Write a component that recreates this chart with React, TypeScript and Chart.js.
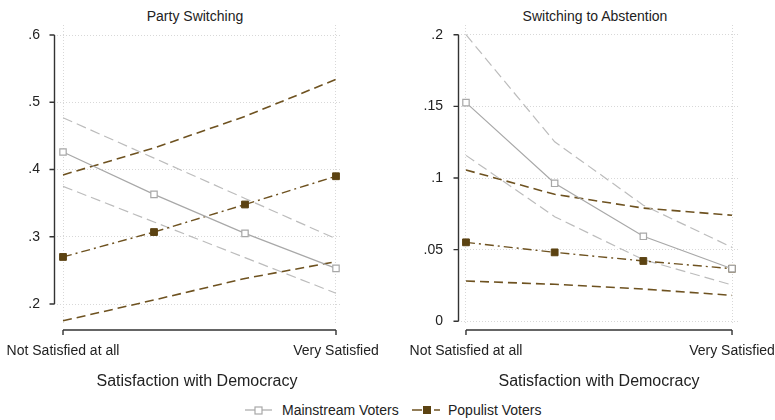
import React, { useEffect, useRef } from "react";
import { Chart, registerables } from "chart.js";

Chart.register(...registerables);

// ---- Data ----
const satisfactionLevels = [1, 2, 3, 4];
const xTickValues = [1, 4];
const xTickLabels = ["Not Satisfied at all", "Very Satisfied"];
const xAxisTitle = "Satisfaction with Democracy";

const panelTitles = ["Party Switching", "Switching to Abstention"];
const seriesNames = ["Mainstream Voters", "Populist Voters"];

// Party switching
const partyMainstream = [0.426, 0.363, 0.305, 0.253];
const partyMainstreamUpper = [0.477, 0.417, 0.357, 0.297];
const partyMainstreamLower = [0.375, 0.322, 0.269, 0.216];
const partyPopulist = [0.27, 0.307, 0.348, 0.39];
const partyPopulistUpper = [0.392, 0.432, 0.479, 0.534];
const partyPopulistLower = [0.175, 0.206, 0.238, 0.263];
const partyYTicks = [0.2, 0.3, 0.4, 0.5, 0.6];
const partyYTickLabels = [".2", ".3", ".4", ".5", ".6"];

// Switching to abstention
const abstMainstream = [0.1526, 0.0963, 0.0593, 0.0367];
const abstMainstreamUpper = [0.2, 0.1253, 0.081, 0.0516];
const abstMainstreamLower = [0.1158, 0.073, 0.043, 0.0253];
const abstPopulist = [0.0551, 0.0481, 0.0421, 0.0367];
const abstPopulistUpper = [0.1056, 0.0886, 0.079, 0.074];
const abstPopulistLower = [0.0281, 0.0258, 0.0225, 0.0181];
const abstYTicks = [0, 0.05, 0.1, 0.15, 0.2];
const abstYTickLabels = ["0", ".05", ".1", ".15", ".2"];

// ---- Styles ----
const FONT = "'Liberation Sans', Arial, sans-serif";
const TEXT = "#222";
const AXIS = "#333";
const GREY_MAIN = "#a8a8a8";
const GREY_CI = "#bcbcbc";
const BROWN = "#6e5220";
const BROWN_MARK = "#5c4312";

const axesPlugin = {
  id: "stataAxes",
  afterDraw(chart: any) {
    const { ctx, chartArea } = chart;
    const xs = chart.scales.x;
    const ys = chart.scales.y;
    const yTicks: number[] = chart.options.plugins.stataAxes.yTicks;
    ctx.save();
    ctx.strokeStyle = AXIS;
    ctx.lineWidth = 1.4;
    const ax = Math.round(chartArea.left) + 0.5;
    const yTop = ys.getPixelForValue(yTicks[yTicks.length - 1]);
    const yBot = ys.getPixelForValue(yTicks[0]);
    ctx.beginPath();
    ctx.moveTo(ax, yTop);
    ctx.lineTo(ax, yBot);
    yTicks.forEach((v) => {
      const py = ys.getPixelForValue(v);
      ctx.moveTo(ax - 5, py);
      ctx.lineTo(ax, py);
    });
    const xl = xs.getPixelForValue(xTickValues[0]);
    const xr = xs.getPixelForValue(xTickValues[xTickValues.length - 1]);
    const ay = chartArea.bottom + 5;
    ctx.moveTo(xl, ay);
    ctx.lineTo(xr, ay);
    ctx.moveTo(xl, ay);
    ctx.lineTo(xl, ay + 5);
    ctx.moveTo(xr, ay);
    ctx.lineTo(xr, ay + 5);
    ctx.stroke();
    ctx.restore();
  },
};

type PanelProps = {
  left: number;
  width: number;
  yAxisWidth: number;
  padRight: number;
  xMin: number;
  xMax: number;
  yMin: number;
  yMax: number;
  yTicks: number[];
  yTickLabels: string[];
  yLabelPad: number;
  mainstream: number[];
  mainstreamUpper: number[];
  mainstreamLower: number[];
  populist: number[];
  populistUpper: number[];
  populistLower: number[];
};

const toPoints = (arr: number[]) =>
  satisfactionLevels.map((x, i) => ({ x, y: arr[i] }));

function Panel(p: PanelProps) {
  const ref = useRef<HTMLCanvasElement>(null);
  useEffect(() => {
    const ciBase = { pointRadius: 0, pointHoverRadius: 0, fill: false, tension: 0 };
    const chart = new Chart(ref.current as HTMLCanvasElement, {
      type: "line",
      data: {
        datasets: [
          {
            label: seriesNames[0],
            data: toPoints(p.mainstream),
            borderColor: GREY_MAIN,
            borderWidth: 1.2,
            pointStyle: "rect",
            pointRadius: 4.5,
            pointBackgroundColor: "#ffffff",
            pointBorderColor: GREY_MAIN,
            pointBorderWidth: 1.2,
            fill: false,
            tension: 0,
          },
          {
            label: seriesNames[1],
            data: toPoints(p.populist),
            borderColor: BROWN,
            borderWidth: 1.4,
            borderDash: [9, 4, 2, 4],
            pointStyle: "rect",
            pointRadius: 4.8,
            pointBackgroundColor: BROWN_MARK,
            pointBorderColor: BROWN_MARK,
            pointBorderWidth: 1,
            fill: false,
            tension: 0,
          },
          {
            label: "Mainstream upper",
            data: toPoints(p.mainstreamUpper),
            borderColor: GREY_CI,
            borderWidth: 1.2,
            borderDash: [10, 5],
            ...ciBase,
          },
          {
            label: "Mainstream lower",
            data: toPoints(p.mainstreamLower),
            borderColor: GREY_CI,
            borderWidth: 1.2,
            borderDash: [10, 5],
            ...ciBase,
          },
          {
            label: "Populist upper",
            data: toPoints(p.populistUpper),
            borderColor: BROWN,
            borderWidth: 1.6,
            borderDash: [9, 5],
            ...ciBase,
          },
          {
            label: "Populist lower",
            data: toPoints(p.populistLower),
            borderColor: BROWN,
            borderWidth: 1.6,
            borderDash: [9, 5],
            ...ciBase,
          },
        ],
      } as any,
      options: {
        animation: false,
        responsive: true,
        maintainAspectRatio: false,
        layout: { padding: { top: 25, right: p.padRight, left: 0, bottom: 0 } },
        plugins: {
          legend: { display: false },
          tooltip: { enabled: false },
          title: { display: false },
          stataAxes: { yTicks: p.yTicks },
        } as any,
        scales: {
          x: {
            type: "linear",
            min: p.xMin,
            max: p.xMax,
            afterBuildTicks: (s: any) => {
              s.ticks = xTickValues.map((v) => ({ value: v }));
            },
            afterFit: (s: any) => {
              s.height = 70;
              s.paddingLeft = 0;
              s.paddingRight = 0;
            },
            ticks: {
              autoSkip: false,
              maxRotation: 0,
              padding: 18,
              color: TEXT,
              font: { family: FONT, size: 14 },
              callback: (_v: any, i: number) => xTickLabels[i],
            },
            grid: {
              color: "#d8d8d8",
              lineWidth: 1,
              drawTicks: false,
            },
            border: { display: false, dash: [1, 2] },
            title: {
              display: true,
              text: xAxisTitle,
              color: TEXT,
              font: { family: FONT, size: 16 },
              padding: { top: 0, bottom: 4 },
            },
          },
          y: {
            type: "linear",
            min: p.yMin,
            max: p.yMax,
            afterBuildTicks: (s: any) => {
              s.ticks = p.yTicks.map((v) => ({ value: v }));
            },
            afterFit: (s: any) => {
              s.width = p.yAxisWidth;
              s.paddingTop = 0;
              s.paddingBottom = 0;
            },
            ticks: {
              autoSkip: false,
              padding: p.yLabelPad,
              color: TEXT,
              font: { family: FONT, size: 14 },
              callback: (_v: any, i: number) => p.yTickLabels[i],
            },
            grid: {
              color: "#d8d8d8",
              lineWidth: 1,
              drawTicks: false,
            },
            border: { display: false, dash: [1, 2] },
          },
        } as any,
      },
      plugins: [axesPlugin],
    });
    return () => chart.destroy();
  }, []);
  return (
    <div
      style={{
        position: "absolute",
        left: p.left,
        top: 0,
        width: p.width,
        height: 395,
      }}
    >
      <canvas ref={ref} />
    </div>
  );
}

function LegendSymbol({ populist }: { populist: boolean }) {
  const c = populist ? BROWN : GREY_MAIN;
  return (
    <svg width={32} height={12} style={{ display: "block" }}>
      {populist ? (
        <>
          <line x1={0} y1={6} x2={10} y2={6} stroke={c} strokeWidth={1.5} />
          <rect x={11} y={2} width={8} height={8} fill={BROWN_MARK} />
          <line x1={22} y1={6} x2={28} y2={6} stroke={c} strokeWidth={1.5} />
        </>
      ) : (
        <>
          <line x1={0} y1={6} x2={27} y2={6} stroke={c} strokeWidth={1.2} />
          <rect x={10} y={3} width={7} height={7} fill="#fff" stroke={c} strokeWidth={1.2} />
        </>
      )}
    </svg>
  );
}

export default function App() {
  const titleStyle: React.CSSProperties = {
    position: "absolute",
    top: 8,
    width: 390,
    textAlign: "center",
    fontFamily: FONT,
    fontSize: 14,
    lineHeight: "16px",
    color: TEXT,
  };
  const legendText: React.CSSProperties = {
    position: "absolute",
    top: 402,
    fontFamily: FONT,
    fontSize: 14,
    lineHeight: "17px",
    color: TEXT,
    whiteSpace: "nowrap",
  };
  return (
    <div
      style={{
        position: "absolute",
        left: 0,
        top: 0,
        width: 775,
        height: 420,
        overflow: "hidden",
        background: "#fff",
      }}
    >
      <div style={{ ...titleStyle, left: 0 }}>{panelTitles[0]}</div>
      <div style={{ ...titleStyle, left: 400 }}>{panelTitles[1]}</div>
      <Panel
        left={0}
        width={385}
        yAxisWidth={54}
        padRight={45}
        xMin={0.901}
        xMax={4.044}
        yMin={0.1688}
        yMax={0.6149}
        yTicks={partyYTicks}
        yTickLabels={partyYTickLabels}
        yLabelPad={14}
        mainstream={partyMainstream}
        mainstreamUpper={partyMainstreamUpper}
        mainstreamLower={partyMainstreamLower}
        populist={partyPopulist}
        populistUpper={partyPopulistUpper}
        populistLower={partyPopulistLower}
      />
      <Panel
        left={390}
        width={390}
        yAxisWidth={68}
        padRight={40}
        xMin={0.91}
        xMax={4.09}
        yMin={-0.0026}
        yMax={0.2068}
        yTicks={abstYTicks}
        yTickLabels={abstYTickLabels}
        yLabelPad={15}
        mainstream={abstMainstream}
        mainstreamUpper={abstMainstreamUpper}
        mainstreamLower={abstMainstreamLower}
        populist={abstPopulist}
        populistUpper={abstPopulistUpper}
        populistLower={abstPopulistLower}
      />
      <div style={{ position: "absolute", left: 245, top: 404 }}>
        <LegendSymbol populist={false} />
      </div>
      <div style={{ ...legendText, left: 282 }}>{seriesNames[0]}</div>
      <div style={{ position: "absolute", left: 412, top: 404 }}>
        <LegendSymbol populist={true} />
      </div>
      <div style={{ ...legendText, left: 448 }}>{seriesNames[1]}</div>
    </div>
  );
}
